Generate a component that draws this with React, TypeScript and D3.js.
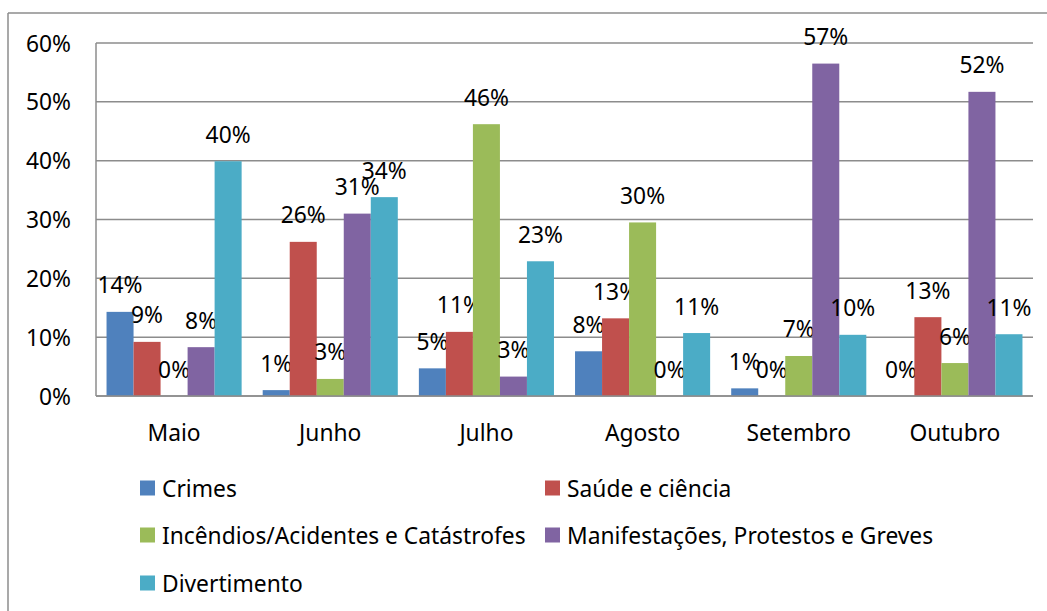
import React from "react";
import * as d3 from "d3";

const categories = ["Maio", "Junho", "Julho", "Agosto", "Setembro", "Outubro"];
const seriesNames = [
  "Crimes",
  "Saúde e ciência",
  "Incêndios/Acidentes e Catástrofes",
  "Manifestações, Protestos e Greves",
  "Divertimento",
];
const crimes = [14.3, 1.0, 4.7, 7.6, 1.3, 0];
const saude = [9.2, 26.2, 10.9, 13.2, 0, 13.4];
const incendios = [0, 2.9, 46.2, 29.5, 6.8, 5.6];
const manifestacoes = [8.3, 31.0, 3.3, 0, 56.5, 51.7];
const divertimento = [39.9, 33.8, 22.9, 10.7, 10.4, 10.5];
const seriesValues = [crimes, saude, incendios, manifestacoes, divertimento];
const colors = ["#4F81BD", "#C0504D", "#9BBB59", "#8064A2", "#4BACC6"];
const yTicks = [0, 10, 20, 30, 40, 50, 60];

const W = 1047;
const H = 611;
const plot = { left: 96, right: 1033, top: 43, bottom: 396 };
const FONT = "'Noto Sans', 'Open Sans', sans-serif";
const FS = 22.8;

export default function App() {
  const x0 = d3.scaleBand<string>().domain(categories).range([plot.left, plot.right]).paddingInner(0).paddingOuter(0);
  const x1 = d3
    .scaleBand<string>()
    .domain(seriesNames)
    .range([0, x0.bandwidth()])
    .paddingInner(0)
    .paddingOuter(0.39);
  const y = d3.scaleLinear().domain([0, 60]).range([plot.bottom, plot.top]);

  const legendItems = [
    { col: 0, row: 0 },
    { col: 1, row: 0 },
    { col: 0, row: 1 },
    { col: 1, row: 1 },
    { col: 0, row: 2 },
  ];
  const legendColX = [140, 545];
  const legendRowY = [488, 535, 583];

  return (
    <svg
      width={W}
      height={H}
      style={{ position: "absolute", left: 0, top: 0, background: "#fff" }}
      fontFamily={FONT}
    >
      <rect x={0} y={0} width={W} height={H} fill="#fff" />
      {/* outer border */}
      <line x1={8} y1={13} x2={W} y2={13} stroke="#8c8c8c" strokeWidth={1.5} />
      <line x1={8} y1={13} x2={8} y2={H} stroke="#8c8c8c" strokeWidth={1.5} />

      {/* grid */}
      {yTicks.map((t) => (
        <g key={t}>
          <line x1={plot.left} x2={plot.right} y1={y(t)} y2={y(t)} stroke="#8c8c8c" strokeWidth={1.5} />
          <text x={71} y={y(t)} textAnchor="end" dominantBaseline="central" fontSize={FS} fill="#000">
            {t}%
          </text>
        </g>
      ))}
      <line x1={plot.left} x2={plot.left} y1={plot.top} y2={plot.bottom} stroke="#8c8c8c" strokeWidth={1.5} />

      {/* bars */}
      {categories.map((c, ci) => (
        <g key={c}>
          {seriesNames.map((s, si) => {
            const v = seriesValues[si][ci];
            const bx = (x0(c) ?? 0) + (x1(s) ?? 0);
            const bw = x1.bandwidth();
            return (
              <g key={s}>
                {v > 0 && (
                  <rect x={bx} y={y(v)} width={bw} height={y(0) - y(v)} fill={colors[si]} />
                )}
                <text
                  x={bx + bw / 2}
                  y={y(v) - 27}
                  textAnchor="middle"
                  dominantBaseline="central"
                  fontSize={FS}
                  fill="#000"
                >
                  {Math.round(v)}%
                </text>
              </g>
            );
          })}
          <text
            x={(x0(c) ?? 0) + x0.bandwidth() / 2}
            y={432}
            textAnchor="middle"
            dominantBaseline="central"
            fontSize={FS}
            fill="#000"
          >
            {c}
          </text>
        </g>
      ))}
      <line x1={plot.left} x2={plot.right} y1={plot.bottom} y2={plot.bottom} stroke="#8c8c8c" strokeWidth={1.5} />

      {/* legend */}
      {seriesNames.map((s, i) => {
        const lx = legendColX[legendItems[i].col];
        const ly = legendRowY[legendItems[i].row];
        return (
          <g key={s}>
            <rect x={lx} y={ly - 7.5} width={15} height={15} fill={colors[i]} />
            <text x={lx + 22} y={ly} dominantBaseline="central" fontSize={FS} fill="#000">
              {s}
            </text>
          </g>
        );
      })}
    </svg>
  );
}
